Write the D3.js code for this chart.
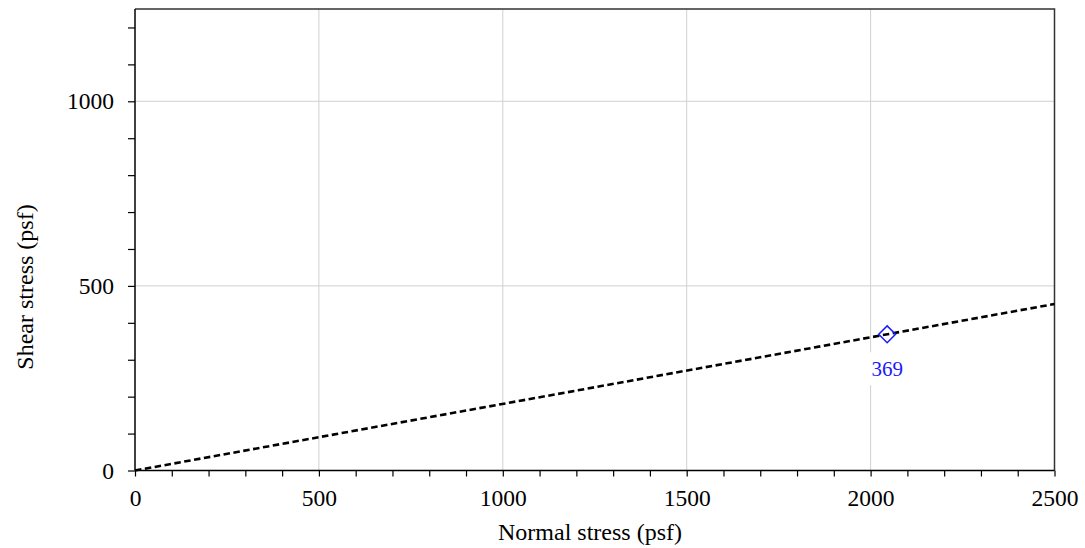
<!DOCTYPE html>
<html>
<head>
<meta charset="utf-8">
<script src="https://cdn.jsdelivr.net/npm/d3@7"></script>
<style>
    body { margin: 0; background: #fff; }
    svg text { font-family: "Liberation Serif", "Times New Roman", serif; }
</style>
</head>
<body>
<div id="chart"></div>
<script>
// values
var xMajor = [0, 500, 1000, 1500, 2000, 2500];
var yMajor = [0, 500, 1000];
var lineNormal = [0, 2500];
var lineShear = [0, 451];
var pointNormal = [2045];
var pointShear = [369];
var pointLabels = ["369"];

var margin = {top: 9, right: 30.5, bottom: 77.5, left: 135},
    width = 1085 - margin.left - margin.right,
    height = 548 - margin.top - margin.bottom;

var svg = d3.select("#chart").append("svg")
    .attr("width", 1085)
    .attr("height", 548);

var g = svg.append("g")
    .attr("transform", "translate(" + margin.left + "," + margin.top + ")");

var x = d3.scaleLinear().domain([0, 2500]).range([0, width]);
var y = d3.scaleLinear().domain([0, 1250]).range([height, 0]);

// grid
g.selectAll(".vgrid")
    .data(xMajor.slice(1, -1))
    .enter().append("line")
    .attr("x1", function(d) { return x(d); })
    .attr("x2", function(d) { return x(d); })
    .attr("y1", 0)
    .attr("y2", height)
    .style("stroke", "#d0d0d0")
    .style("stroke-width", 1);

g.selectAll(".hgrid")
    .data(yMajor.slice(1))
    .enter().append("line")
    .attr("x1", 0)
    .attr("x2", width)
    .attr("y1", function(d) { return y(d); })
    .attr("y2", function(d) { return y(d); })
    .style("stroke", "#d0d0d0")
    .style("stroke-width", 1);

// frame top/right
g.append("path")
    .attr("d", "M0,0H" + width + "V" + height)
    .style("fill", "none")
    .style("stroke", "#333")
    .style("stroke-width", 1.5);

// axes: minor ticks every 100, labels at 500
var xAxis = d3.axisBottom(x)
    .tickValues(d3.range(0, 2501, 100))
    .tickSize(6)
    .tickPadding(13)
    .tickFormat(function(d) { return d % 500 === 0 ? d : ""; });

var yAxis = d3.axisLeft(y)
    .tickValues(d3.range(0, 1201, 100))
    .tickSize(7)
    .tickPadding(14)
    .tickFormat(function(d) { return d % 500 === 0 ? d : ""; });

var gx = g.append("g")
    .attr("transform", "translate(0," + height + ")")
    .call(xAxis);

var gy = g.append("g").call(yAxis);

[gx, gy].forEach(function(a) {
    a.select(".domain").style("stroke", "#000").style("stroke-width", 1.5);
    a.selectAll(".tick line").style("stroke", "#000").style("stroke-width", 1.2);
    a.selectAll("text")
        .style("font-family", "Liberation Serif, serif")
        .style("font-size", "23.5px")
        .style("fill", "#000");
});
gy.select(".domain").attr("d", "M0," + height + "V0");
gx.select(".domain").attr("d", "M0,0H" + width);

// dashed failure line
var line = d3.line()
    .x(function(d) { return x(d[0]); })
    .y(function(d) { return y(d[1]); });

g.append("path")
    .datum(d3.zip(lineNormal, lineShear))
    .attr("d", line)
    .style("fill", "none")
    .style("stroke", "#000")
    .style("stroke-width", 2.6)
    .style("stroke-dasharray", "6.5,3.5");

// point + label
var pts = d3.zip(pointNormal, pointShear, pointLabels);

var labels = g.selectAll(".lab")
    .data(pts)
    .enter().append("g")
    .attr("transform", function(d) {
        return "translate(" + x(d[0]) + "," + y(d[1]) + ")";
    });

labels.append("rect")
    .attr("x", -21)
    .attr("y", 18)
    .attr("width", 42)
    .attr("height", 33)
    .style("fill", "#fff");

labels.append("text")
    .attr("y", 42)
    .attr("text-anchor", "middle")
    .style("font-size", "21px")
    .style("fill", "#1a1aff")
    .text(function(d) { return d[2]; });

labels.append("path")
    .attr("d", d3.symbol().type(d3.symbolDiamond2).size(180))
    .style("fill", "none")
    .style("stroke", "#1a1aff")
    .style("stroke-width", 1.5);

// titles
svg.append("text")
    .attr("x", 590)
    .attr("y", 540)
    .attr("text-anchor", "middle")
    .style("font-size", "24px")
    .text("Normal stress (psf)");

svg.append("text")
    .attr("transform", "translate(33,287) rotate(-90)")
    .attr("text-anchor", "middle")
    .style("font-size", "24px")
    .text("Shear stress (psf)");
</script>
</body>
</html>
